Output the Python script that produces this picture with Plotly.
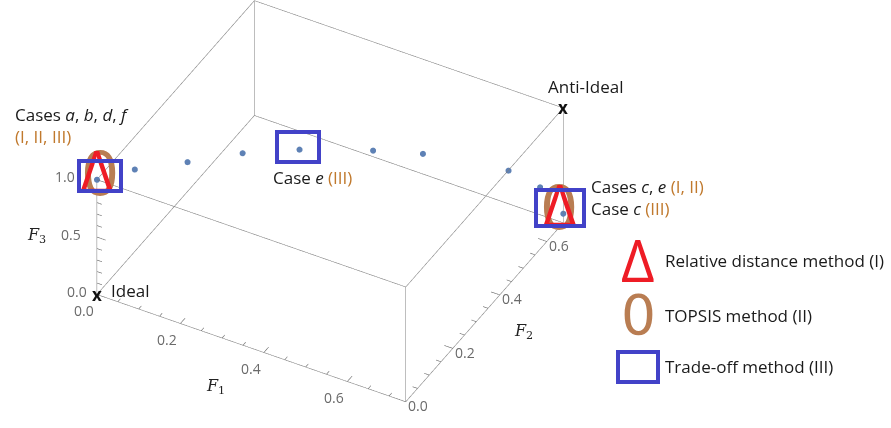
import itertools
import numpy as np
import plotly.graph_objects as go

# Pareto-optimal solutions (objective values)
F1 = [0.00, 0.04, 0.11, 0.18, 0.26, 0.38, 0.46, 0.62, 0.69, 0.74]
F2 = [0.00, 0.09, 0.19, 0.30, 0.40, 0.50, 0.57, 0.65, 0.66, 0.67]
F3 = [1.00, 0.93, 0.85, 0.76, 0.66, 0.57, 0.48, 0.35, 0.27, 0.08]

IDEAL = [0.0, 0.0, 0.0]
ANTI_IDEAL = [max(F1), max(F2), max(F3)]

# solutions selected by the decision methods
IDX_ABDF = 0   # cases a, b, d, f (I, II, III)
IDX_CE = 9     # cases c, e (I, II) and case c (III)
IDX_E3 = 4     # case e (III)

F1_TICKS = [0.0, 0.2, 0.4, 0.6]
F2_TICKS = [0.0, 0.2, 0.4, 0.6]
F3_TICKS = [0.0, 0.5, 1.0]
F1_MINOR_STEP = 0.05
F2_MINOR_STEP = 0.05
F3_MINOR_STEP = 0.1

LEGEND_LABELS = ["Relative distance method (I)", "TOPSIS method (II)", "Trade-off method (III)"]

RED = "#EE1C25"
BROWN = "#B97D52"
BLUE = "#4242C8"
DOT = "#5E81B5"
ORANGE = "#C0792D"
EDGE = "#7c7c7c"
FONT = "Open Sans"
TRI_FONT = "Open Sans"
RING_FONT = "DejaVu Sans"

ranges = list(zip(IDEAL, ANTI_IDEAL))
span = [hi - lo for lo, hi in ranges]

# --- bounding box edges between ideal and anti-ideal points ---
corners = list(itertools.product(*ranges))
ex, ey, ez = [], [], []
for a, b in itertools.combinations(corners, 2):
    if sum(p != q for p, q in zip(a, b)) == 1:
        ex += [a[0], b[0], None]
        ey += [a[1], b[1], None]
        ez += [a[2], b[2], None]


# --- tick marks drawn inward along a box face ---
def minor_values(lo, hi, step, majors):
    vals = np.arange(lo, hi + 1e-9, step)
    return [v for v in vals if all(abs(v - m) > 1e-6 for m in majors)]


tx, ty, tz = [], [], []


def add_ticks(axis_i, values, base, dir_i, sign, frac):
    for v in values:
        p = list(base)
        p[axis_i] = v
        q = list(p)
        q[dir_i] += sign * frac * span[dir_i]
        tx.extend([p[0], q[0], None])
        ty.extend([p[1], q[1], None])
        tz.extend([p[2], q[2], None])


x0, y0, z0 = IDEAL
x1, y1, z1 = ANTI_IDEAL
# F1 along the front-left bottom edge, ticks pointing into +F2
add_ticks(0, F1_TICKS, (x0, y0, z0), 1, +1, 0.03)
add_ticks(0, minor_values(x0, x1, F1_MINOR_STEP, F1_TICKS), (x0, y0, z0), 1, +1, 0.017)
# F2 along the front-right bottom edge, ticks pointing into -F1
add_ticks(1, F2_TICKS, (x1, y0, z0), 0, -1, 0.028)
add_ticks(1, minor_values(y0, y1, F2_MINOR_STEP, F2_TICKS), (x1, y0, z0), 0, -1, 0.016)
# F3 along the left vertical edge, ticks pointing into +F1
add_ticks(2, F3_TICKS, (x0, y0, z0), 0, +1, 0.028)
add_ticks(2, minor_values(z0, z1, F3_MINOR_STEP, F3_TICKS), (x0, y0, z0), 0, +1, 0.016)

fig = go.Figure()
fig.add_trace(go.Scatter3d(x=ex, y=ey, z=ez, mode="lines",
                           line=dict(color=EDGE, width=1.1),
                           hoverinfo="skip", showlegend=False))
fig.add_trace(go.Scatter3d(x=tx, y=ty, z=tz, mode="lines",
                           line=dict(color="#666666", width=1.2),
                           hoverinfo="skip", showlegend=False))
fig.add_trace(go.Scatter3d(x=F1, y=F2, z=F3, mode="markers",
                           marker=dict(size=3.5, color=DOT),
                           hoverinfo="skip", showlegend=False))


def pt(i):
    return dict(x=F1[i], y=F2[i], z=F3[i])


def roman(s):
    return f"<span style='color:{ORANGE}'>{s}</span>"


def it(s):
    return f"<i>{s}</i>"


def triangle(p, dx=0, dy=9, size=58):
    return dict(**p, text="Δ", showarrow=False, xshift=dx, yshift=dy,
                xanchor="center", yanchor="middle",
                font=dict(family=TRI_FONT, size=size, color=RED))


def ellipse(p, dx=0, dy=6, size=60):
    return dict(**p, text="0", showarrow=False, xshift=dx, yshift=dy,
                xanchor="center", yanchor="middle",
                font=dict(family=RING_FONT, size=size, color=BROWN))


def square(p, dx=0, dy=4, w=38, h=26):
    return dict(**p, text=" ", showarrow=False, xshift=dx, yshift=dy,
                xanchor="center", yanchor="middle",
                width=w, height=h, borderpad=0, borderwidth=4, bordercolor=BLUE)


label_font = dict(family=FONT, size=17, color="#1a1a1a")
ann3d = []

# tick labels
tick_font = dict(family=FONT, size=14, color="#6a6a6a")
for v in F1_TICKS:
    ann3d.append(dict(x=v, y=y0, z=z0, text=f"{v:.1f}", showarrow=False,
                      xanchor="center", yanchor="middle", xshift=-13, yshift=-16, font=tick_font))
for v in F2_TICKS:
    ann3d.append(dict(x=x1, y=v, z=z0, text=f"{v:.1f}", showarrow=False,
                      xanchor="center", yanchor="middle", xshift=12, yshift=-4, font=tick_font))
for v in F3_TICKS:
    ann3d.append(dict(x=x0, y=y0, z=v, text=f"{v:.1f}", showarrow=False,
                      xanchor="right", yanchor="middle",
                      xshift=-8 - 12 * (v - z0) / span[2], yshift=3, font=tick_font))

# axis titles
title_font = dict(family="DejaVu Serif", size=16, color="#222")
ann3d.append(dict(x=(x0 + x1) / 2, y=y0, z=z0, text="<i>F</i><sub>1</sub>",
                  showarrow=False, xshift=-36, yshift=-38, font=title_font))
ann3d.append(dict(x=x1, y=(y0 + y1) / 2, z=z0, text="<i>F</i><sub>2</sub>",
                  showarrow=False, xshift=39, yshift=-19, font=title_font))
ann3d.append(dict(x=x0, y=y0, z=(z0 + z1) / 2, text="<i>F</i><sub>3</sub>",
                  showarrow=False, xshift=-60, yshift=2, font=title_font))

# Ideal / Anti-Ideal
for p in (IDEAL, ANTI_IDEAL):
    ann3d.append(dict(x=p[0], y=p[1], z=p[2], text="<b>x</b>", showarrow=False,
                      xanchor="center", yanchor="middle",
                      font=dict(family=FONT, size=17, color="#111")))
ann3d.append(dict(x=x0, y=y0, z=z0, text="Ideal", showarrow=False,
                  xanchor="left", yanchor="middle", xshift=12, yshift=4, font=label_font))
ann3d.append(dict(x=x1, y=y1, z=z1, text="Anti-Ideal", showarrow=False,
                  xanchor="center", yanchor="middle", xshift=22, yshift=21, font=label_font))

# selection markers
ann3d += [ellipse(pt(IDX_ABDF), dx=3), triangle(pt(IDX_ABDF)), square(pt(IDX_ABDF), dx=3)]
ann3d += [ellipse(pt(IDX_CE), dx=-4), triangle(pt(IDX_CE), dx=-3),
          square(pt(IDX_CE), dx=-3, dy=6, w=44, h=32)]
ann3d += [square(pt(IDX_E3), dx=-1, dy=3)]

# case labels
ann3d.append(dict(**pt(IDX_ABDF), showarrow=False, xanchor="left", yanchor="bottom",
                  align="left", xshift=-84, yshift=30, font=label_font,
                  text=f"Cases {it('a')}, {it('b')}, {it('d')}, {it('f')}<br>{roman('(I, II, III)')}"))
ann3d.append(dict(**pt(IDX_CE), showarrow=False, xanchor="left", yanchor="middle",
                  align="left", xshift=26, yshift=16, font=label_font,
                  text=f"Cases {it('c')}, {it('e')} {roman('(I, II)')}<br>Case {it('c')} {roman('(III)')}"))
ann3d.append(dict(**pt(IDX_E3), showarrow=False, xanchor="center", yanchor="middle",
                  xshift=13, yshift=-28, font=label_font,
                  text=f"Case {it('e')} {roman('(III)')}"))

hidden_axis = dict(showgrid=False, showbackground=False, zeroline=False, showline=False,
                   showticklabels=False, ticks="", showspikes=False, title=dict(text=""))

# custom legend on the right
W, H = 891, 428
rows_y = [260, 315, 366]
symbol_x = 638
legend_ann = [
    dict(xref="paper", yref="paper", x=symbol_x / W, y=1 - (rows_y[0] - 1) / H,
         text="Δ", showarrow=False, xanchor="center", yanchor="middle",
         font=dict(family=TRI_FONT, size=58, color=RED)),
    dict(xref="paper", yref="paper", x=symbol_x / W, y=1 - rows_y[1] / H,
         text="0", showarrow=False, xanchor="center", yanchor="middle",
         font=dict(family=RING_FONT, size=55, color=BROWN)),
    dict(xref="paper", yref="paper", x=symbol_x / W, y=1 - (rows_y[2] + 1) / H,
         text=" ", showarrow=False, xanchor="center", yanchor="middle",
         width=36, height=26, borderpad=0, borderwidth=4, bordercolor=BLUE),
]
for label, ry in zip(LEGEND_LABELS, rows_y):
    legend_ann.append(dict(xref="paper", yref="paper", x=663 / W, y=1 - ry / H,
                           xanchor="left", yanchor="middle", text=label, showarrow=False,
                           font=label_font))

fig.update_layout(
    width=W, height=H,
    margin=dict(l=0, r=0, t=0, b=0),
    paper_bgcolor="white",
    showlegend=False,
    annotations=legend_ann,
    scene=dict(
        domain=dict(x=[0, 0.754], y=[0.035, 1]),
        aspectmode="manual",
        aspectratio=dict(x=1.709, y=1.576, z=0.715),
        xaxis=dict(range=list(ranges[0]), **hidden_axis),
        yaxis=dict(range=list(ranges[1]), **hidden_axis),
        zaxis=dict(range=list(ranges[2]), **hidden_axis),
        camera=dict(eye=dict(x=0.965, y=-1.686, z=1.537),
                    up=dict(x=0, y=0, z=1), center=dict(x=0.025, y=0.014, z=-0.033),
                    projection=dict(type="orthographic")),
        annotations=ann3d,
    ),
)

fig.write_html("out.html", config={"displayModeBar": False})
